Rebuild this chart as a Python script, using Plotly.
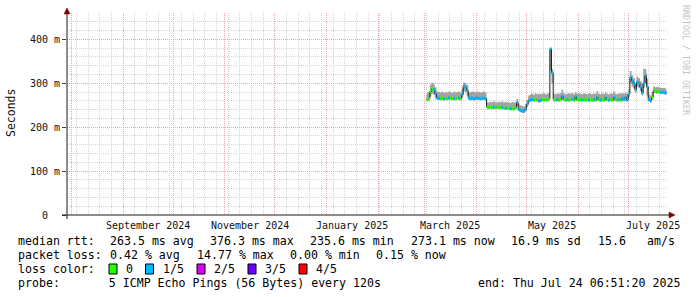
import plotly.graph_objects as go
import pandas as pd

# ---------------- data ----------------
first_day = "2025-03-02"
median_ms = [
    263, 265, 281, 287, 285, 276, 267, 266, 265, 266,
    265, 266, 265, 267, 266, 265, 266, 265, 267, 266,
    265, 274, 294, 291, 284, 267, 266, 266, 265, 266,
    267, 266, 265, 266, 266, 265, 246, 245, 246, 245,
    246, 245, 246, 245, 246, 245, 244, 243, 244, 243,
    242, 243, 242, 244, 256, 240, 238, 237, 236, 241,
    252, 261, 262, 263, 262, 263, 262, 260, 261, 263,
    262, 263, 262, 264, 378, 324, 263, 262, 263, 262,
    263, 270, 263, 262, 263, 262, 263, 264, 262, 269,
    263, 262, 263, 262, 263, 262, 263, 262, 263, 262,
    263, 262, 268, 263, 262, 263, 262, 267, 263, 262,
    263, 262, 268, 263, 262, 263, 262, 266, 263, 268,
    262, 276, 313, 305, 299, 285, 303, 300, 291, 278,
    300, 318, 292, 263, 260, 268, 284, 281, 280, 281,
    279, 280, 279, 278,
]
smoke_hi_ms = [
    277, 280, 297, 301, 298, 291, 281, 280, 279, 281,
    278, 280, 279, 281, 280, 278, 281, 279, 280, 282,
    279, 288, 302, 300, 296, 279, 280, 281, 280, 279,
    281, 280, 279, 280, 281, 279, 257, 256, 258, 257,
    259, 257, 256, 258, 257, 259, 256, 258, 257, 256,
    255, 258, 256, 257, 264, 252, 250, 248, 247, 252,
    262, 272, 275, 276, 274, 277, 275, 276, 275, 276,
    277, 275, 276, 277, 381, 332, 276, 275, 277, 276,
    278, 286, 277, 275, 276, 277, 276, 278, 275, 280,
    276, 277, 276, 275, 277, 276, 275, 277, 276, 275,
    277, 276, 282, 276, 275, 277, 276, 280, 276, 275,
    277, 276, 281, 276, 275, 277, 276, 278, 276, 279,
    276, 287, 328, 318, 312, 300, 315, 312, 305, 300,
    333, 332, 310, 275, 272, 280, 293, 291, 292, 291,
    290, 289, 290, 288,
]
smoke_lo_ms = [
    259, 260, 270, 276, 274, 266, 262, 262, 261, 262,
    261, 262, 261, 263, 262, 261, 262, 261, 263, 262,
    261, 266, 282, 280, 272, 262, 261, 262, 261, 262,
    262, 262, 261, 262, 262, 261, 242, 241, 242, 241,
    242, 241, 242, 241, 242, 241, 240, 239, 240, 239,
    238, 239, 238, 240, 248, 236, 234, 233, 232, 236,
    246, 256, 258, 259, 258, 259, 258, 256, 257, 259,
    258, 259, 258, 260, 330, 300, 259, 258, 259, 258,
    259, 262, 259, 258, 259, 258, 259, 260, 258, 261,
    259, 258, 259, 258, 259, 258, 259, 258, 259, 258,
    259, 258, 260, 259, 258, 259, 258, 260, 259, 258,
    259, 258, 260, 259, 258, 259, 258, 259, 259, 260,
    258, 268, 300, 292, 288, 278, 292, 290, 282, 272,
    290, 300, 272, 258, 256, 262, 278, 277, 276, 277,
    275, 276, 275, 274,
]
loss_level = [
    0, 0, 0, 0, 1, 1, 1, 1, 0, 0,
    1, 0, 0, 1, 0, 0, 1, 0, 0, 1,
    0, 1, 1, 1, 1, 1, 1, 1, 1, 1,
    1, 1, 1, 1, 1, 1, 0, 0, 0, 0,
    1, 0, 0, 0, 0, 1, 0, 1, 0, 0,
    1, 0, 0, 0, 1, 1, 1, 1, 1, 1,
    1, 1, 1, 1, 0, 0, 0, 1, 1, 0,
    0, 0, 0, 0, 1, 1, 0, 0, 1, 0,
    0, 1, 0, 0, 1, 0, 0, 1, 0, 1,
    0, 0, 0, 1, 0, 0, 0, 1, 0, 0,
    1, 0, 1, 0, 1, 0, 0, 1, 0, 1,
    0, 0, 1, 0, 0, 1, 0, 1, 1, 1,
    1, 1, 1, 1, 1, 1, 1, 1, 1, 1,
    1, 1, 1, 1, 1, 0, 0, 0, 0, 0,
    1, 1, 1, 1,
]

x_start = "2024-07-29 06:51:20"
x_end = "2025-07-24 06:51:20"
month_labels = ["September 2024", "November 2024", "January 2025",
                "March 2025", "May 2025", "July 2025"]
month_label_dates = ["2024-09-16", "2024-11-16", "2025-01-16",
                     "2025-03-16", "2025-05-16", "2025-07-16"]
y_tick_vals = [0, 0.1, 0.2, 0.3, 0.4]
y_tick_text = ["0\u00a0\u00a0", "100 m", "200 m", "300 m", "400 m"]

loss_names = ["0", "1/5", "2/5", "3/5", "4/5"]
loss_colors = ["#26ff00", "#00b8ff", "#dd00ff", "#6a00ff", "#ff0000"]

median_items = ["median rtt:", "263.5 ms avg", "376.3 ms max", "235.6 ms min",
                "273.1 ms now", "16.9 ms sd", "15.6", "am/s"]
loss_items = ["packet loss:", "0.42 % avg", "14.77 % max", "0.00 % min",
              "0.15 % now"]
row_color_label = "loss color:"
row_probe = "probe:       5 ICMP Echo Pings (56 Bytes) every 120s"
end_text = "end: Thu Jul 24 06:51:20 2025"

# ---------------- geometry ----------------
W, H = 697, 297
L, R, T, B = 67, 30, 13, 82
PW = W - L - R
PH = H - T - B
FONT = "DejaVu Sans Mono"
LEG_SIZE = 11.6


def px(x):
    return (x - L) / PW


def py(y):
    return (H - B - y) / PH


def nb(s):
    return s.replace(" ", "\u00a0")


dates = pd.date_range(first_day, periods=len(median_ms) + 1, freq="D")
med_s = [v / 1000 for v in median_ms]
hi_s = [v / 1000 for v in smoke_hi_ms]
lo_s = [v / 1000 for v in smoke_lo_ms]

fig = go.Figure()

# smoke band
fig.add_trace(go.Scatter(x=dates, y=lo_s + [lo_s[-1]], mode="lines",
                         line=dict(width=0, shape="hv"), hoverinfo="skip",
                         showlegend=False))
fig.add_trace(go.Scatter(x=dates, y=hi_s + [hi_s[-1]], mode="lines",
                         line=dict(width=0, shape="hv"), fill="tonexty",
                         fillcolor="#a3a3a3", hoverinfo="skip",
                         showlegend=False))
# median line
fig.add_trace(go.Scatter(x=dates, y=med_s + [med_s[-1]], mode="lines",
                         line=dict(width=1, color="#202020", shape="hv"),
                         hoverinfo="skip", showlegend=False))
# loss-coloured median bars
for lvl, col in enumerate(loss_colors):
    xs, ys = [], []
    for i, v in enumerate(med_s):
        if loss_level[i] == lvl:
            xs += [dates[i], dates[i + 1], None]
            ys += [v, v, None]
    if xs:
        fig.add_trace(go.Scatter(x=xs, y=ys, mode="lines",
                                 line=dict(width=3, color=col),
                                 hoverinfo="skip", showlegend=False))

leg_font = dict(family=FONT, size=LEG_SIZE, color="#000")
annotations = []
# x labels
for lab, d in zip(month_labels, month_label_dates):
    annotations.append(dict(x=d, y=py(225), xref="x", yref="paper",
                            text=nb(lab), showarrow=False, xanchor="center",
                            yanchor="middle",
                            font=dict(family=FONT, size=10, color="#111")))
# y title
annotations.append(dict(x=px(11), y=py(113), xref="paper", yref="paper",
                        text="Seconds", textangle=-90, showarrow=False,
                        xanchor="center", yanchor="middle",
                        font=dict(family=FONT, size=11.5, color="#111")))
# watermark
annotations.append(dict(x=px(686), y=py(60), xref="paper", yref="paper",
                        text=nb("RRDTOOL / TOBI OETIKER"), textangle=90,
                        showarrow=False, xanchor="center", yanchor="middle",
                        font=dict(family=FONT, size=8.3, color="#c4c4c4")))

row_y = [241, 255, 269, 283]
median_x = [16, 108, 208, 308, 409, 509, 596, 645]
loss_x = [16, 108, 195, 288, 374]
for txt, xx in zip(median_items, median_x):
    annotations.append(dict(x=px(xx), y=py(row_y[0]), xref="paper",
                            yref="paper", text=nb(txt), showarrow=False,
                            xanchor="left", yanchor="middle", font=leg_font))
for txt, xx in zip(loss_items, loss_x):
    annotations.append(dict(x=px(xx), y=py(row_y[1]), xref="paper",
                            yref="paper", text=nb(txt), showarrow=False,
                            xanchor="left", yanchor="middle", font=leg_font))
for txt, yy in [(row_color_label, row_y[2]), (row_probe, row_y[3])]:
    annotations.append(dict(x=px(16), y=py(yy), xref="paper", yref="paper",
                            text=nb(txt), showarrow=False, xanchor="left",
                            yanchor="middle", font=leg_font))
annotations.append(dict(x=px(682), y=py(row_y[3]), xref="paper",
                        yref="paper", text=nb(end_text), showarrow=False,
                        xanchor="right", yanchor="middle", font=leg_font))

box_x = [109, 145.5, 197, 248, 299]
shapes = []
for name, col, bx in zip(loss_names, loss_colors, box_x):
    shapes.append(dict(type="rect", xref="paper", yref="paper",
                       x0=px(bx), x1=px(bx + 8), y0=py(row_y[2] + 5),
                       y1=py(row_y[2] - 5), fillcolor=col,
                       line=dict(color="#000", width=1)))
    annotations.append(dict(x=px(bx + 15), y=py(row_y[2]), xref="paper",
                            yref="paper", text=name, showarrow=False,
                            xanchor="left", yanchor="middle", font=leg_font))

# axes lines and arrows
axis_col = "#1a1a1a"
arrow_col = "#800000"
shapes.append(dict(type="line", xref="paper", yref="paper",
                   x0=px(62), x1=px(671), y0=0, y1=0,
                   line=dict(color=axis_col, width=1)))
shapes.append(dict(type="line", xref="paper", yref="paper",
                   x0=0, x1=0, y0=py(219), y1=py(12),
                   line=dict(color=axis_col, width=1)))
shapes.append(dict(type="path", xref="paper", yref="paper",
                   path=f"M {px(669)} {py(212)} L {px(675)} {py(215)} L {px(669)} {py(218)} Z",
                   fillcolor=arrow_col, line=dict(color=arrow_col, width=0.5)))
shapes.append(dict(type="path", xref="paper", yref="paper",
                   path=f"M {px(64)} {py(14)} L {px(67)} {py(8)} L {px(70)} {py(14)} Z",
                   fillcolor=arrow_col, line=dict(color=arrow_col, width=0.5)))

grid_gray = "#d4d4d4"
grid_red = "#f2a2a2"

fig.update_layout(
    width=W, height=H,
    margin=dict(l=L, r=R, t=T, b=B, pad=0),
    paper_bgcolor="#ffffff", plot_bgcolor="#ffffff",
    showlegend=False,
    annotations=annotations,
    shapes=shapes,
    xaxis=dict(
        type="date", range=[x_start, x_end],
        showticklabels=False, ticks="",
        showline=False, zeroline=False,
        dtick="M1", tick0="2024-08-01",
        showgrid=True, gridcolor=grid_red, griddash="1px,1px", gridwidth=1,
        minor=dict(dtick=7 * 86400000, tick0="2024-09-01", showgrid=True,
                   gridcolor=grid_gray, griddash="1px,1px", gridwidth=1),
        fixedrange=True,
    ),
    yaxis=dict(
        range=[0, 0.46],
        tickmode="array", tickvals=y_tick_vals, ticktext=y_tick_text,
        ticks="outside", ticklen=4, tickcolor="#444", tickwidth=1,
        ticklabelstandoff=0,
        tickfont=dict(family=FONT, size=10, color="#111"),
        showline=False, zeroline=False,
        showgrid=True, gridcolor=grid_red, griddash="1px,1px", gridwidth=1,
        minor=dict(dtick=0.02, tick0=0, showgrid=True, gridcolor=grid_gray,
                   griddash="1px,1px", gridwidth=1),
        fixedrange=True,
    ),
)

fig.write_html("out.html")
